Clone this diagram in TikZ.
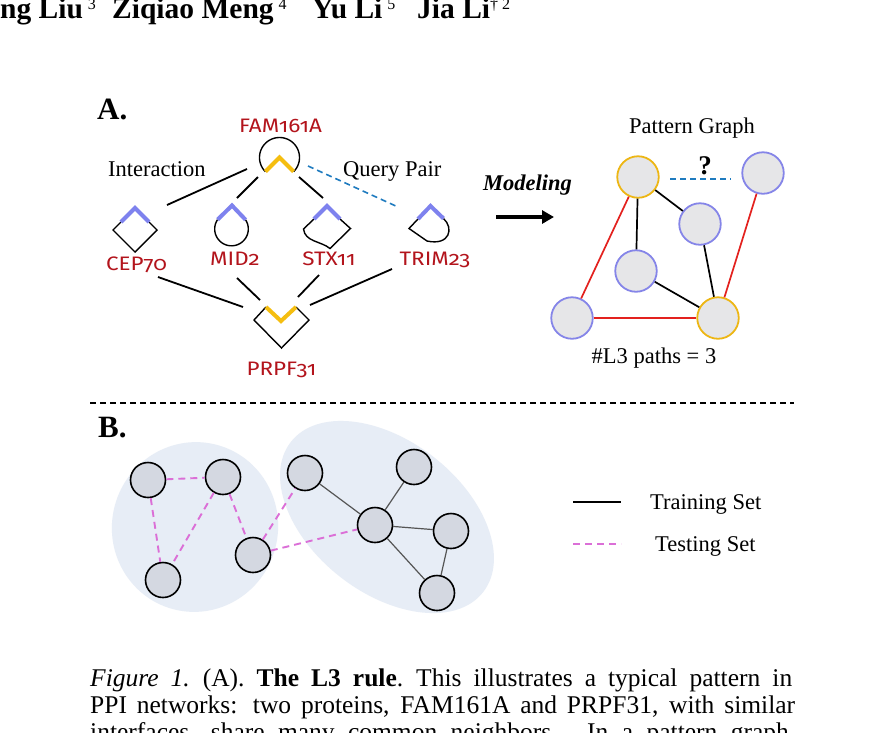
\documentclass[tikz,border=0pt]{standalone}
\usepackage{fontspec}
\setmainfont{Liberation Serif}
\newfontfamily\protfont[Numbers=OldStyle]{Fira Sans}
\usetikzlibrary{arrows.meta,shapes.geometric}
\definecolor{protred}{HTML}{B3141C}
\definecolor{chevyel}{HTML}{F5BE10}
\definecolor{chevblue}{HTML}{7E82EE}
\definecolor{qblue}{HTML}{1F7BBF}
\definecolor{pgray}{HTML}{E6E6E8}
\definecolor{pyel}{HTML}{EDB614}
\definecolor{pblue}{HTML}{8585E8}
\definecolor{pred}{HTML}{E3211E}
\definecolor{ellfill}{HTML}{E7EDF6}
\definecolor{bnode}{HTML}{D4D8E1}
\definecolor{pinkdash}{HTML}{DB6FD7}
\definecolor{bedge}{HTML}{555555}
\tikzset{
  lbl/.style={inner sep=0pt, anchor=base west, font=\fontsize{22.5}{27}\selectfont},
  prot/.style={inner sep=0pt, anchor=base, text=protred, font=\protfont\fontsize{19.5}{20}\selectfont},
  chev/.style={line width=4pt, line join=miter},
  symb/.style={line width=1.4pt, line join=miter},
  conn/.style={line width=1.8pt},
  qpair/.style={line width=1.6pt, qblue, dash pattern=on 6pt off 4pt},
  pnode/.style={circle, draw, line width=1.8pt, fill=pgray, minimum size=41.5pt, inner sep=0pt},
  pyellow/.style={pnode, draw=pyel},
  pbluen/.style={pnode, draw=pblue},
  redge/.style={line width=1.7pt, pred},
  kedge/.style={line width=1.7pt, black},
  bn/.style={circle, draw=black, line width=1.6pt, fill=bnode, minimum size=35pt, inner sep=0pt},
  testedge/.style={line width=1.9pt, pinkdash, dash pattern=on 7pt off 5pt},
  trainedge/.style={line width=1.2pt, bedge},
  capline/.style={inner sep=0pt, anchor=base west, font=\fontsize{25.5}{28}\selectfont},
  hdr/.style={inner sep=0pt, anchor=base west, font=\fontsize{29.5}{30}\selectfont\bfseries},
}
\newcommand{\supmark}[1]{\raisebox{9pt}{\fontsize{16}{16}\selectfont\mdseries #1}}
\newcommand{\pname}[1]{\scalebox{1.15}[1]{#1}}
\begin{document}
\begin{tikzpicture}[x=1pt,y=-1pt]
\useasboundingbox (0,0) rectangle (883,732);
\fill[white] (0,0) rectangle (883,732);
\clip (0,0) rectangle (883,732);

% ---------- header ----------
\node[hdr] (h1) at (0,18) {ng Liu\,\supmark{3}};
\node[hdr] (h2) at (112,18) {Ziqiao Meng\,\supmark{4}};
\node[hdr] (h3) at (312,18) {Yu Li\,\supmark{5}};
\node[hdr] (h4) at (417,18) {Jia Li\supmark{\textdagger\ 2}};

% ---------- panel A ----------
\node[inner sep=0pt, anchor=base west, font=\fontsize{31}{31}\selectfont\bfseries] (labA) at (97,119) {A.};

% FAM161A symbol
\draw[symb] plot[domain=135:405, samples=60] ({279.5+20*cos(\x)},{157.5+20*sin(\x)});
\draw[chev, chevyel] (265.4,171.6) -- (279.5,157.5) -- (293.6,171.6);
\node[prot] (fam) at (280.5,132.7) {\pname{FAM161A}};

% CEP70 symbol
\draw[symb] (149,222) -- (157,230) -- (135,252) -- (113,230) -- (121,222);
\draw[chev, chevblue] (121,222) -- (135,208) -- (149,222);
\node[prot] (cep) at (136.5,270) {\pname{CEP70}};

% MID2 symbol
\draw[symb] plot[domain=-33:214, samples=60] ({231.5+16.8*cos(\x)},{229+16.8*sin(\x)});
\draw[chev, chevblue] (217.6,219.6) -- (232,205.5) -- (245.6,219.8);
\node[prot] (mid) at (235,265.7) {\pname{MID2}};

% STX11 symbol
\draw[symb] (340,219) -- (350.5,228.5) -- (330,248.5) .. controls (321,241) and (305,242) .. (303.5,229) -- (314,219);
\draw[chev, chevblue] (314,219) -- (327,206) -- (340,219);
\node[prot] (stx) at (329,265.7) {\pname{STX11}};

% TRIM23 symbol
\draw[symb] (443.5,218.5) .. controls (454,228) and (450,246) .. (427,241) -- (409,228.5) -- (418,219);
\draw[chev, chevblue] (418,219) -- (430.5,206) -- (443.5,218.5);
\node[prot] (trim) at (435,265) {\pname{TRIM23}};

% PRPF31 symbol
\draw[symb] (266,307) -- (254,320) -- (281.5,348) -- (309,320) -- (296,307);
\draw[chev, chevyel] (266,307) -- (281,321) -- (296,307);
\node[prot] (prpf) at (281.5,375) {\pname{PRPF31}};

% connector end points
\coordinate (fL) at (247,169); \coordinate (cT) at (167,205);
\coordinate (fM) at (258,177); \coordinate (mT) at (237,198);
\coordinate (fS) at (299,177); \coordinate (sT) at (323,198);
\coordinate (fQ) at (308,166); \coordinate (tT) at (398,207);
\coordinate (cB) at (158,277); \coordinate (pL) at (243,307);
\coordinate (mB) at (237,278); \coordinate (pML) at (260,300);
\coordinate (sB) at (319,275); \coordinate (pMR) at (298,297);
\coordinate (tB) at (392,269); \coordinate (pR) at (310,305);

\draw[conn] (fL) -- (cT);
\draw[conn] (fM) -- (mT);
\draw[conn] (fS) -- (sT);
\draw[qpair] (fQ) -- (tT);
\draw[conn] (cB) -- (pL);
\draw[conn] (mB) -- (pML);
\draw[conn] (sB) -- (pMR);
\draw[conn] (tB) -- (pR);

\node[lbl] (inter) at (108,176) {Interaction};
\node[lbl] (query) at (343,176) {Query Pair};

% modeling arrow
\node[lbl, font=\fontsize{22.5}{27}\selectfont\bfseries\itshape] (model) at (483,190) {Modeling};
\coordinate (arS) at (496,217); \coordinate (arE) at (554,217);
\draw[line width=3.8pt, -{Triangle[length=12pt,width=13pt]}] (arS) -- (arE);

% pattern graph
\node[lbl, anchor=base] (ptitle) at (692,133) {Pattern Graph};
\node[pyellow] (g1) at (638,177) {};
\node[pbluen] (g2) at (763,173) {};
\node[pbluen] (g3) at (700,224) {};
\node[pbluen] (g4) at (636,271) {};
\node[pbluen] (g5) at (572,318) {};
\node[pyellow] (g6) at (718,318) {};
\draw[kedge] (g1) -- (g3);
\draw[kedge] (g1) -- (g4);
\draw[kedge] (g4) -- (g6);
\draw[kedge] (g3) -- (g6);
\draw[redge] (g1) -- (g5);
\draw[redge] (g5) -- (g6);
\draw[redge] (g2) -- (g6);
\coordinate (qa) at (670,179); \coordinate (qb) at (731,179);
\draw[qpair] (qa) -- (qb);
\node[inner sep=0pt, anchor=base, font=\fontsize{27}{27}\selectfont\bfseries] (qm) at (705,174) {?};
\node[lbl, anchor=base] (l3) at (654,363) {\#L3 paths = 3};

% separator
\coordinate (sepL) at (90,403); \coordinate (sepR) at (794,403);
\draw[line width=1.1pt, dash pattern=on 6pt off 4pt] (sepL) -- (sepR);

% ---------- panel B ----------
\node[inner sep=0pt, anchor=base west, font=\fontsize{31}{31}\selectfont\bfseries] (labB) at (98,437) {B.};

\fill[ellfill, rotate around={-15:(195,527)}] (195,527) ellipse [x radius=83, y radius=85];
\fill[ellfill, rotate around={-38:(387,517)}] (387,517) ellipse [x radius=122, y radius=76];

\node[bn] (L1) at (148,480) {};
\node[bn] (L2) at (223,477) {};
\node[bn] (L3) at (163,580) {};
\node[bn] (L4) at (253,555) {};
\node[bn] (R1) at (305,473) {};
\node[bn] (R2) at (414,467) {};
\node[bn] (R3) at (375,525) {};
\node[bn] (R4) at (451,531) {};
\node[bn] (R5) at (437,593) {};

\draw[testedge] (L1) -- (L2);
\draw[testedge] (L1) -- (L3);
\draw[testedge] (L2) -- (L3);
\draw[testedge] (L2) -- (L4);
\draw[testedge] (L4) -- (R1);
\draw[testedge] (L4) -- (R3);
\draw[trainedge] (R1) -- (R3);
\draw[trainedge] (R2) -- (R3);
\draw[trainedge] (R3) -- (R4);
\draw[trainedge] (R3) -- (R5);
\draw[trainedge] (R4) -- (R5);

% legend
\coordinate (lgA1) at (573,502); \coordinate (lgA2) at (621,502);
\coordinate (lgB1) at (573,544); \coordinate (lgB2) at (621,544);
\draw[line width=1.8pt] (lgA1) -- (lgA2);
\draw[line width=1.8pt, pinkdash, dash pattern=on 7pt off 5pt] (lgB1) -- (lgB2);
\node[lbl] (tr) at (650,509) {Training Set};
\node[lbl] (te) at (655,551.7) {Testing Set};

% ---------- caption ----------
\node[capline] (c1) at (90,686) {\hbox to 702pt{\textit{Figure 1.}\hspace{13pt}(A). \textbf{The L3 rule}.\hspace{13pt}This illustrates a typical pattern in}};
\node[capline] (c2) at (90,713.3) {\hbox to 705pt{PPI networks: two proteins, FAM161A and PRPF31, with similar}};
\node[capline] (c3) at (90,740.6) {\hbox to 705pt{interfaces, share many common neighbors. In a pattern graph,}};
\end{tikzpicture}
\end{document}
